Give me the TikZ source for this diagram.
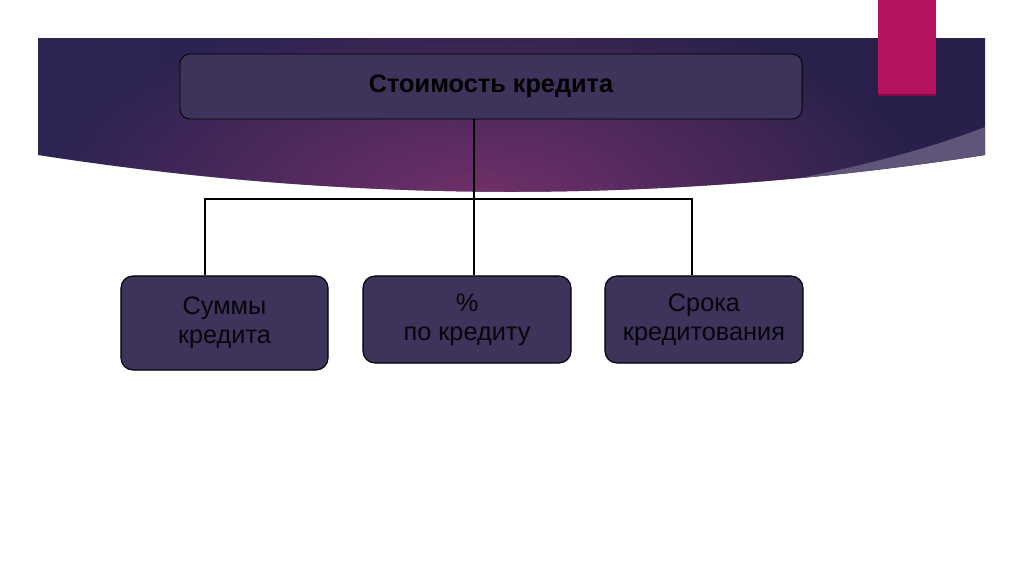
\documentclass[tikz,border=0pt]{standalone}
\usepackage{fontspec}
\setmainfont{Liberation Sans}
\usepackage{tikz}
\usetikzlibrary{calc,fadings}
\usepackage{xcolor}
\definecolor{bandleft}{HTML}{2C2452}
\definecolor{bandmid}{HTML}{45285A}
\definecolor{bandright}{HTML}{28204A}
\definecolor{bandglow}{HTML}{72306A}
\definecolor{bandstrip}{HTML}{5E5579}
\definecolor{accent}{HTML}{B5125F}
\definecolor{boxfill}{HTML}{3D335B}
\tikzfading[name=glowfade, inner color=transparent!0, outer color=transparent!100]
\tikzset{
    topbox/.style={draw=black, line width=0.6pt, fill=boxfill, rounded corners=0.25cm,
        minimum width=15.55cm, minimum height=1.625cm, inner sep=0pt,
        font=\fontsize{18}{21}\selectfont\bfseries},
    itembox/.style={draw=black, line width=0.8pt, fill=boxfill, rounded corners=0.3cm,
        inner sep=0pt, align=center, text=black!90!boxfill, font=\fontsize{18}{20.8}\selectfont},
    conn/.style={line width=1.4pt, black}
}

\begin{document}
\begin{tikzpicture}[x=0.025cm, y=-0.025cm]
    \useasboundingbox (0,0) rectangle (1024,574);
    \fill[white] (0,0) rectangle (1024,574);

    % banner
    \begin{scope}
        \clip (38,38) -- (985,38) -- (985,155)
            .. controls (669,204) and (354,204) .. (38,155) -- cycle;
        \shade[left color=bandleft, middle color=bandmid, right color=bandright]
            (38,38) rectangle (985,210);
        \fill[bandglow, path fading=glowfade] (480,200) ellipse [x radius=440, y radius=200];
        \fill[bandstrip] (985,127) .. controls (900,160) and (800,180) .. (700,195)
            -- (1000,195) -- cycle;
    \end{scope}
    \fill[accent] (878,0) rectangle (936,94);
    \fill[accent!70!black] (878,94) rectangle (936,96);

    % tree
    \node[topbox] (top) at (491,86.5) {Стоимость кредита};
    \node[itembox, minimum width=5.175cm, minimum height=2.35cm] (sum) at (224.5,323)
        {Суммы\\кредита};
    \node[itembox, minimum width=5.2cm, minimum height=2.175cm] (pct) at (467,319.5)
        {\%\\по кредиту};
    \node[itembox, minimum width=4.95cm, minimum height=2.175cm] (term) at (704,319.5)
        {Срока\\кредитования};

    \coordinate (fork) at (474,199);
    \draw[conn] (top.south -| fork) -- (fork);
    \draw[conn] (fork) -- (fork |- pct.north);
    \draw[conn] ([xshift=-0.49cm]sum.north) |- (fork) -| ([xshift=-0.3cm]term.north);
\end{tikzpicture}
\end{document}
